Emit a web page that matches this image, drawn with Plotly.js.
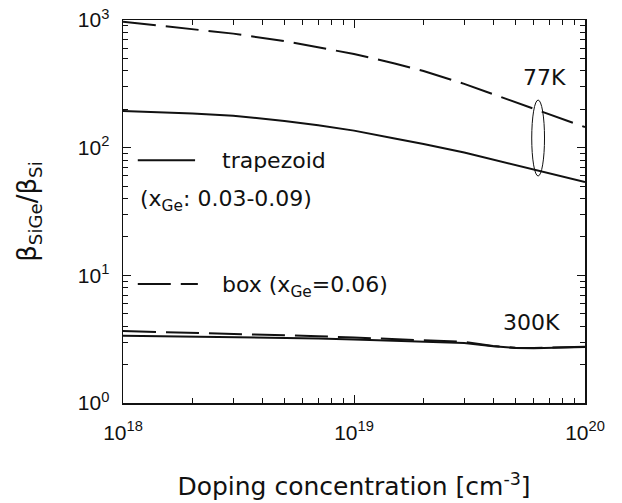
<!DOCTYPE html>
<html>
<head>
<meta charset="utf-8">
<script src="https://cdn.plot.ly/plotly-3.0.1.min.js"></script>
<style>
  html, body { margin: 0; padding: 0; background: #fff; }
  #chart { width: 622px; height: 503px; }
</style>
</head>
<body>
<div id="chart"></div>
<script>
// Doping concentration (cm^-3) and current-gain ratio beta_SiGe / beta_Si
const doping = [1e18, 1.5e18, 2e18, 3e18, 5e18, 7e18, 1e19, 1.5e19, 2e19, 3e19, 4e19, 5e19, 6e19, 8e19, 1e20];
const box77 = [970, 899, 851, 782, 684, 612, 542, 457, 398, 316, 263, 228, 203, 168, 145];
const trap77 = [194, 190, 185, 178, 162, 150, 136, 118, 107, 91.6, 80.7, 73.3, 67.6, 59.4, 53.8];
const box300 = [3.66, 3.60, 3.56, 3.50, 3.41, 3.34, 3.26, 3.17, 3.11, 3.01, 2.80, 2.71, 2.70, 2.72, 2.76];
const trap300 = [3.37, 3.34, 3.32, 3.29, 3.24, 3.20, 3.15, 3.08, 3.03, 2.95, 2.78, 2.70, 2.69, 2.71, 2.75];

// Axis ticks
const xTickVals = [1e18, 1e19, 1e20];
const xTickText = ['10<sup>18</sup>', '10<sup>19</sup>', '10<sup>20</sup>'];
const yTickVals = [1, 10, 100, 1000];
const yTickText = ['10<sup>0</sup>', '10<sup>1</sup>', '10<sup>2</sup>', '10<sup>3</sup>'];

// Ellipse grouping the 77K curves at one doping level
const ringX = [5.88e19, 6.68e19];
const ringY = [60, 236];

function minorVals(firstDecade, lastDecade) {
  const v = [];
  for (let d = firstDecade; d < lastDecade; d++) {
    for (let m = 2; m <= 9; m++) v.push(m * Math.pow(10, d));
  }
  return v;
}

const black = '#111';
const dashPat = '33px,10px';

const traces = [
  { x: doping, y: box77, mode: 'lines', line: { color: black, width: 2, dash: dashPat } },
  { x: doping, y: trap77, mode: 'lines', line: { color: black, width: 2 } },
  { x: doping, y: box300, mode: 'lines', line: { color: black, width: 2, dash: dashPat } },
  { x: doping, y: trap300, mode: 'lines', line: { color: black, width: 2 } }
];

const textFont = { family: 'DejaVu Sans, sans-serif', size: 22, color: black };
const tickFont = { family: 'Liberation Sans, Arial, sans-serif', size: 21, color: black };

const axisCommon = {
  type: 'log',
  showgrid: false,
  zeroline: false,
  showline: true,
  linecolor: black,
  linewidth: 1.5,
  mirror: 'ticks',
  ticks: 'inside',
  ticklen: 8,
  tickwidth: 1,
  tickcolor: black,
  tickmode: 'array',
  tickfont: tickFont
};

const layout = {
  width: 622,
  height: 503,
  margin: { l: 123, r: 37, t: 20, b: 100 },
  paper_bgcolor: '#fff',
  plot_bgcolor: '#fff',
  showlegend: false,
  xaxis: Object.assign({}, axisCommon, {
    range: [18, 20],
    tickvals: xTickVals,
    ticktext: xTickText,
    ticklabelstandoff: 10,
    minor: { tickmode: 'array', tickvals: minorVals(18, 20), ticks: 'inside', ticklen: 5, tickwidth: 1, tickcolor: black },
    title: { text: 'Doping concentration [cm<sup>-3</sup>]', font: { family: 'DejaVu Sans, sans-serif', size: 25, color: black }, standoff: 35 }
  }),
  yaxis: Object.assign({}, axisCommon, {
    range: [0, 3],
    tickvals: yTickVals,
    ticktext: yTickText,
    ticklabelstandoff: 8,
    minor: { tickmode: 'array', tickvals: minorVals(0, 3), ticks: 'inside', ticklen: 5, tickwidth: 1, tickcolor: black },
    title: { text: 'β<sub>SiGe</sub>/β<sub>Si</sub>', font: { family: 'DejaVu Sans, sans-serif', size: 26, color: black }, standoff: 33 }
  }),
  shapes: [
    { type: 'circle', xref: 'x', yref: 'y', x0: ringX[0], x1: ringX[1], y0: ringY[0], y1: ringY[1], line: { color: black, width: 1 } },
    // key samples
    { type: 'line', xref: 'paper', yref: 'paper', x0: 0.032, x1: 0.156, y0: 0.634, y1: 0.634, line: { color: black, width: 2 } },
    { type: 'line', xref: 'paper', yref: 'paper', x0: 0.032, x1: 0.162, y0: 0.311, y1: 0.311, line: { color: black, width: 2, dash: dashPat } }
  ],
  annotations: [
    { xref: 'paper', yref: 'paper', x: 0.913, y: 0.849, text: '77K', showarrow: false, font: textFont, xanchor: 'center', yanchor: 'middle' },
    { xref: 'paper', yref: 'paper', x: 0.885, y: 0.209, text: '300K', showarrow: false, font: textFont, xanchor: 'center', yanchor: 'middle' },
    { xref: 'paper', yref: 'paper', x: 0.21, y: 0.634, text: 'trapezoid', showarrow: false, font: textFont, xanchor: 'left', yanchor: 'middle' },
    { xref: 'paper', yref: 'paper', x: 0.032, y: 0.53, text: '(x<sub>Ge</sub>: 0.03-0.09)', showarrow: false, font: textFont, xanchor: 'left', yanchor: 'middle' },
    { xref: 'paper', yref: 'paper', x: 0.21, y: 0.305, text: 'box (x<sub>Ge</sub>=0.06)', showarrow: false, font: textFont, xanchor: 'left', yanchor: 'middle' }
  ]
};

Plotly.newPlot('chart', traces, layout, { staticPlot: true, displayModeBar: false });
</script>
</body>
</html>
